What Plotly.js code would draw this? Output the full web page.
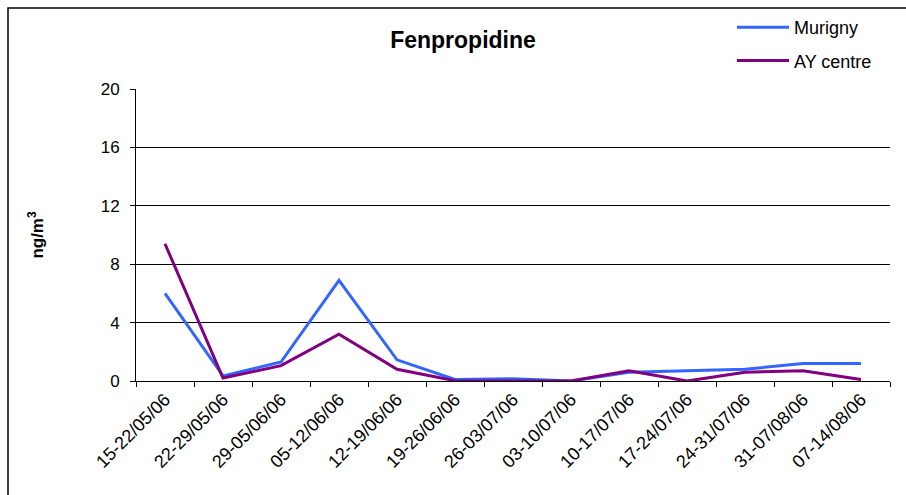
<!DOCTYPE html>
<html>
<head>
<meta charset="utf-8">
<script src="https://cdn.plot.ly/plotly-3.0.1.min.js"></script>
<style>html,body{margin:0;padding:0;background:#fff;}#chart{width:906px;height:495px;}</style>
</head>
<body>
<div id="chart"></div>
<script>
var categories = ["15-22/05/06","22-29/05/06","29-05/06/06","05-12/06/06","12-19/06/06","19-26/06/06","26-03/07/06","03-10/07/06","10-17/07/06","17-24/07/06","24-31/07/06","31-07/08/06","07-14/08/06"];
var murigny = [6.0, 0.35, 1.3, 6.9, 1.45, 0.1, 0.15, 0.0, 0.6, 0.7, 0.8, 1.2, 1.2];
var ayCentre = [9.4, 0.2, 1.05, 3.2, 0.8, 0.02, 0.0, 0.0, 0.7, 0.0, 0.6, 0.7, 0.1];
var yTicks = [0, 4, 8, 12, 16, 20];

var font = "Liberation Sans, Arial, sans-serif";
var traces = [
  {x: categories, y: murigny, name: "Murigny", type: "scatter", mode: "lines", legendgroup: "a",
   line: {color: "#3366FF", width: 3}},
  {x: categories, y: ayCentre, name: "AY centre", type: "scatter", mode: "lines", legendgroup: "b",
   line: {color: "#800080", width: 3}}
];
var layout = {
  width: 906, height: 495,
  margin: {l: 136, r: 16, t: 89, b: 114},
  paper_bgcolor: "#fff", plot_bgcolor: "#fff",
  font: {family: font, size: 16, color: "#000"},
  title: {text: "<b>Fenpropidine</b>", font: {family: font, size: 23, color: "#000"},
          xref: "container", x: 463 / 906, xanchor: "center", yref: "container", y: 1 - 40 / 495, yanchor: "middle"},
  showlegend: true,
  legend: {xref: "paper", yref: "container", x: (732 - 136) / 754, xanchor: "left", y: 1 - 9 / 495, yanchor: "top",
           bgcolor: "rgba(0,0,0,0)", font: {family: font, size: 18, color: "#000"},
           tracegroupgap: 7, itemwidth: 52, traceorder: "grouped"},
  xaxis: {type: "category", tickangle: -45, tickson: "boundaries", ticks: "outside", ticklen: 5,
          tickcolor: "#000", showline: true, linecolor: "#000", linewidth: 1,
          showgrid: false, zeroline: false, tickfont: {family: font, size: 18, color: "#000"},
          range: [-0.5, 12.5], fixedrange: true},
  yaxis: {range: [0, 20], tickvals: yTicks, ticks: "outside", ticklen: 5, tickcolor: "#000",
          ticklabelstandoff: 7,
          showline: true, linecolor: "#000", linewidth: 1, showgrid: true, gridcolor: "#000", gridwidth: 1,
          zeroline: false, tickfont: {family: font, size: 17, color: "#000"},
          title: {text: "<b>ng/m<sup>3</sup></b>", font: {family: font, size: 17, color: "#000"}, standoff: 52}},
  shapes: [{type: "rect", xref: "paper", yref: "paper",
            x0: (8 - 136) / 754, x1: (920 - 136) / 754,
            y0: (381 - 510) / 292, y1: (381 - 8) / 292,
            line: {color: "#000", width: 1.5}, fillcolor: "rgba(0,0,0,0)", layer: "below"}]
};
Plotly.newPlot("chart", traces, layout, {displayModeBar: false, staticPlot: true});
</script>
</body>
</html>
